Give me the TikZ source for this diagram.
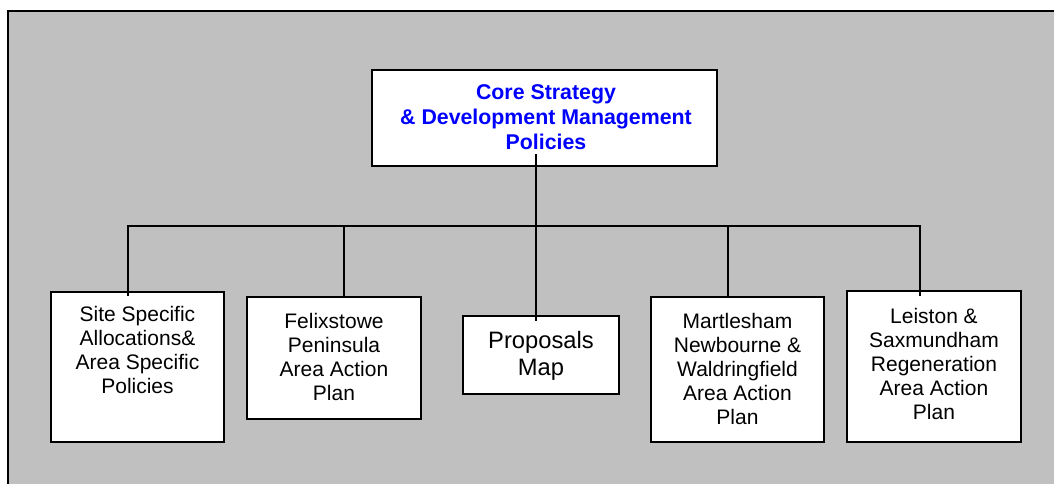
\documentclass[tikz,border=0pt]{standalone}
\usepackage{fontspec}
\setmainfont{Liberation Sans}
\definecolor{bggray}{HTML}{C0C0C0}
\definecolor{titleblue}{HTML}{0000FF}
\tikzset{
  boxnode/.style={draw=black, fill=white, line width=1.6pt, inner sep=0pt},
  bodytext/.style={align=center, inner sep=0pt, font=\fontsize{15.75}{18}\selectfont},
  bigtext/.style={align=center, inner sep=0pt, font=\fontsize{17.8}{20.25}\selectfont},
  titletext/.style={align=center, inner sep=0pt, text=titleblue, font=\fontsize{16}{18.75}\selectfont\bfseries},
  link/.style={draw=black, line width=1.5pt},
}
\begin{document}
\begin{tikzpicture}[x=0.75pt, y=-0.75pt]
\useasboundingbox (0,0) rectangle (1054,484);
% frame
\fill[bggray] (8,11) rectangle (1054,484);
\draw[line width=1.6pt] (8,484) -- (8,11) -- (1054,11);

% top box
\node[boxnode, minimum width=345*0.75pt, minimum height=96*0.75pt] (top) at (544.5,118) {};
\node[titletext] (toptxt) at (546,117) {Core Strategy\\\& Development Management\\Policies};

% child boxes
\node[boxnode, minimum width=173*0.75pt, minimum height=150*0.75pt] (b1) at (137.5,367) {};
\node[bodytext] (b1t) at (137.5,350) {Site Specific\\Allocations\&\\Area Specific\\Policies};

\node[boxnode, minimum width=174*0.75pt, minimum height=122*0.75pt] (b2) at (334,358) {};
\node[bodytext] (b2t) at (334,357) {Felixstowe\\Peninsula\\Area Action\\Plan};

\node[boxnode, minimum width=156*0.75pt, minimum height=78*0.75pt] (b3) at (541,355) {};
\node[bigtext] (b3t) at (541,356) {Proposals\\Map};

\node[boxnode, minimum width=173*0.75pt, minimum height=145*0.75pt] (b4) at (737.5,369.5) {};
\node[bodytext] (b4t) at (737.5,368.5) {Martlesham\\Newbourne \&\\Waldringfield\\Area Action\\Plan};

\node[boxnode, minimum width=174*0.75pt, minimum height=151*0.75pt] (b5) at (934,366.5) {};
\node[bodytext] (b5t) at (934,364) {Leiston \&\\Saxmundham\\Regeneration\\Area Action\\Plan};

% connectors
\coordinate (stem) at (536,154);
\coordinate (j1) at (128,226);
\coordinate (j2) at (344,226);
\coordinate (j3) at (536,226);
\coordinate (j4) at (728,226);
\coordinate (j5) at (920,226);
\draw[link] (stem) -- (stem |- b3.north) -- ++(0,6);
\draw[link, line cap=rect] (j1) -- (j5);
\draw[link] (j1) -- (j1 |- b4.north);
\draw[link] (j2) -- (j2 |- b2.north);
\draw[link] (j4) -- (j4 |- b4.north);
\draw[link] (j5) -- (j5 |- b4.north);
\end{tikzpicture}
\end{document}
